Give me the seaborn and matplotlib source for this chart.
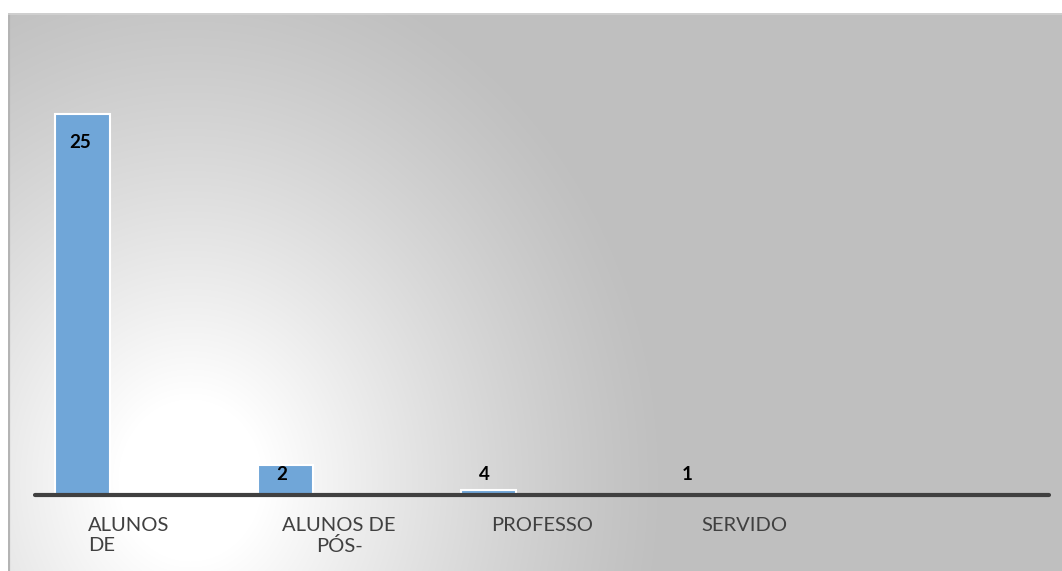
import numpy as np
import pandas as pd
import matplotlib
matplotlib.use("Agg")
import matplotlib.pyplot as plt
import seaborn as sns

# ---- data ----
categories = ["ALUNOS\nDE", "ALUNOS DE\nPÓS-", "PROFESSO", "SERVIDO"]
bar_heights = [25, 2, 0.33, 0.07]     # drawn heights as seen in the picture
value_labels = ["25", "2", "4", "1"]  # labels printed on the bars
label_align = ["left", "center", "center", "center"]
n_slots = 5

sns.set_theme(style="white")
plt.rcParams['font.family'] = ['Lato', 'DejaVu Sans']

W, H = 1062, 571
fig = plt.figure(figsize=(W / 100, H / 100), dpi=100)
fig.patch.set_facecolor("white")

# background radial gradient panel
bx0, by0 = 8, 13
bg_ax = fig.add_axes([bx0 / W, 0, (W - bx0) / W, (H - by0) / H])
bg_ax.set_axis_off()
ph, pw = H - by0, W - bx0
yy, xx = np.mgrid[0:ph, 0:pw]
cx, cy = 190 - bx0, 480 - by0
r = np.sqrt(((xx - cx) / 480.0) ** 2 + ((yy - cy) / 540.0) ** 2)
t = np.clip((1 - r) / 0.85, 0, 1) ** 1.2
val = 191 + 64 * t
img = np.dstack([val, val, val]) / 255.0
bg_ax.imshow(img, aspect="auto", extent=[0, pw, ph, 0], interpolation="bilinear")
bg_ax.plot([0.8, 0.8], [0, ph], color="#b4b4b4", lw=1.6)
bg_ax.plot([0, pw], [0.5, 0.5], color="#d2d2d2", lw=1.2)
bg_ax.set_xlim(0, pw)
bg_ax.set_ylim(ph, 0)

# main axes (pixel geometry of the plot area)
ax_left, ax_right, ax_bottom = 35, 1049, 495
ymax = 30
ppu = (495 - 114) / 25.0
ax_top = ax_bottom - ymax * ppu
ax = fig.add_axes([ax_left / W, (H - ax_bottom) / H, (ax_right - ax_left) / W, (ax_bottom - ax_top) / H])
ax.patch.set_alpha(0)

slot_w = (ax_right - ax_left) / n_slots
bar_w = 55 / slot_w
bar_off = 47.7 / slot_w
xpos = [i + bar_off for i in range(len(categories))]
df = pd.DataFrame({"x": xpos, "h": bar_heights})
sns.barplot(data=df, x="x", y="h", native_scale=True, width=bar_w, color="#70a6d8",
            saturation=1, edgecolor="white", linewidth=1.5, ax=ax, zorder=3)

ax.set_xlim(0, n_slots)
ax.set_ylim(0, ymax)
ax.set_xticks([])
ax.set_yticks([])
ax.set_xlabel("")
ax.set_ylabel("")
for s in ["top", "right", "left", "bottom"]:
    ax.spines[s].set_visible(False)
ax.axhline(0, color="#404040", lw=3, zorder=4, clip_on=False)

# value labels
for x, h, lab in zip(xpos, bar_heights, value_labels):
    if h * ppu - 28 > 20:
        ax.annotate(lab, (x, h), xytext=(-3, -28), textcoords="offset pixels",
                    ha="center", va="center", fontsize=13.5, fontweight="bold", color="black", zorder=5)
    else:
        ax.annotate(lab, (x, 0), xytext=(-4, 20), textcoords="offset pixels",
                    ha="center", va="center", fontsize=13.5, fontweight="bold", color="black", zorder=5)

# category labels (wrapped / truncated as in the picture)
for i, (cat, al) in enumerate(zip(categories, label_align)):
    xc = i + 0.5
    dx = -8 if al == "left" else 0
    ax.annotate(cat, (xc, 0), xytext=(dx, -22), textcoords="offset pixels",
                ha="center", va="top", fontsize=14.5, color="#404040",
                multialignment=al, linespacing=1.2, annotation_clip=False)

fig.savefig("out.png", dpi=100, facecolor=fig.get_facecolor())
